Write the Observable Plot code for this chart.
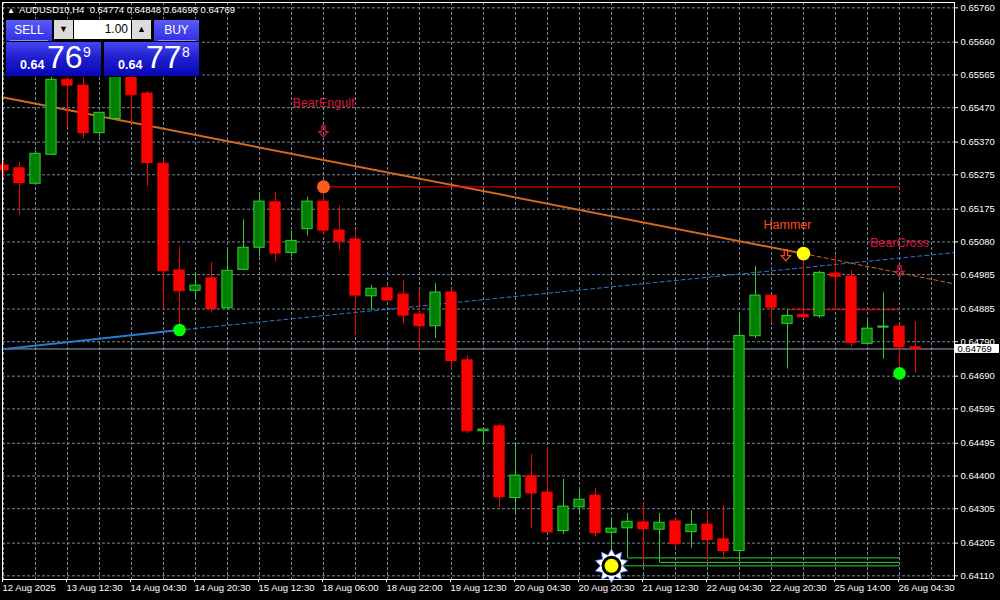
<!DOCTYPE html>
<html><head><meta charset="utf-8">
<script src="https://cdn.jsdelivr.net/npm/d3@7"></script>
<script src="https://cdn.jsdelivr.net/npm/@observablehq/plot@0.6"></script>
<style>
body{margin:0;background:#000;}
#wrap{position:relative;width:1000px;height:600px;overflow:hidden;background:#000;font-family:"Liberation Sans",Arial,sans-serif;}
#chart svg{display:block}
.abs{position:absolute;}
#hdr{left:7px;top:4px;color:#fff;font-size:9.5px;line-height:12px;white-space:pre;}
#hdr .tri{font-size:8px;margin-right:4px;}
.btn{position:absolute;background:linear-gradient(#5a5af8,#3030e4);color:#fff;font-size:12px;text-align:center;line-height:21px;height:21px;}
.arr{position:absolute;background:#dcdcdc;color:#000;font-size:9px;text-align:center;line-height:19px;width:19px;height:19px;top:20px;}
#vol{position:absolute;left:74px;top:20px;width:54px;height:19px;background:#fff;color:#000;font-size:12px;line-height:19px;text-align:right;padding-right:3px;}
.px{position:absolute;top:42px;width:95px;height:34px;background:linear-gradient(#4646f2 0%,#2020d0 45%,#0606b4 100%);}
.px span{position:absolute;color:#fff;line-height:1;}
.px .s{font-size:12.5px;font-weight:bold;top:17px;}
.px .b{font-size:32px;top:-1px;}
.px .sup{font-size:14px;top:3px;}
</style></head>
<body>
<div id="wrap">
<div id="chart"></div>
<div id="hdr" class="abs"><span class="tri">▲</span><span id="hdrtext"></span></div>
<div class="abs" style="left:5px;top:19px;width:195px;height:58px;background:#000;"></div>
<div class="btn" style="left:6px;top:20px;width:46px;">SELL</div>
<div class="abs" style="left:10px;top:40px;width:38px;height:1px;background:#8a8aff;"></div>
<div class="arr" style="left:54px;">▼</div>
<div id="vol">1.00</div>
<div class="arr" style="left:132px;">▲</div>
<div class="btn" style="left:154px;top:20px;width:45px;">BUY</div>
<div class="abs" style="left:158px;top:40px;width:38px;height:1px;background:#8a8aff;"></div>
<div class="px" id="sellpx" style="left:6px;"><span class="s" style="left:14px;"></span><span class="b" style="left:41px;"></span><span class="sup" style="left:77px;"></span></div>
<div class="px" id="buypx" style="left:104px;"><span class="s" style="left:14px;"></span><span class="b" style="left:42px;"></span><span class="sup" style="left:78px;"></span></div>
</div>
<script>
// ---------- data ----------
const symbolName = "AUDUSD10";
const timeframe = "H4";
const bid = 0.64769;
const ask = 0.64778;
const lotSize = "1.00";

const opens  = [0.65302,0.65294,0.65249,0.65333,0.65551,0.65534,0.65396,0.65437,0.65578,0.65511,
                0.65307,0.64997,0.64938,0.64974,0.64887,0.64999,0.65063,0.65195,0.65048,0.65117,
                0.65197,0.65113,0.65087,0.64922,0.64945,0.64927,0.64869,0.64835,0.64933,0.64736,
                0.64530,0.64544,0.64336,0.64399,0.64352,0.64240,0.64309,0.64343,0.64235,0.64248,
                0.64265,0.64244,0.64268,0.64237,0.64259,0.64216,0.64182,0.64806,0.64924,0.64842,
                0.64868,0.64864,0.64988,0.64979,0.64784,0.64831,0.64834,0.64774];
const highs  = [0.65314,0.65312,0.65344,0.65585,0.65570,0.65557,0.65457,0.65590,0.65595,0.65517,
                0.65321,0.65067,0.64990,0.65020,0.65059,0.65144,0.65223,0.65223,0.65111,0.65210,
                0.65238,0.65184,0.65115,0.64953,0.64956,0.64968,0.64937,0.64959,0.64941,0.64749,
                0.64535,0.64552,0.64492,0.64462,0.64484,0.64390,0.64367,0.64364,0.64276,0.64291,
                0.64321,0.64291,0.64279,0.64299,0.64297,0.64314,0.64875,0.65009,0.64924,0.64883,
                0.65046,0.64995,0.65041,0.64997,0.64852,0.64932,0.64840,0.64848];
const lows   = [0.65268,0.65157,0.65247,0.65331,0.65413,0.65381,0.65384,0.65435,0.65423,0.65241,
                0.64883,0.64828,0.64913,0.64873,0.64881,0.64997,0.65036,0.65021,0.65036,0.65097,
                0.65099,0.65055,0.64808,0.64881,0.64908,0.64842,0.64765,0.64800,0.64709,0.64523,
                0.64489,0.64309,0.64285,0.64248,0.64234,0.64230,0.64285,0.64222,0.64140,0.64162,
                0.64147,0.64149,0.64187,0.64190,0.64147,0.64158,0.64150,0.64799,0.64844,0.64711,
                0.64859,0.64858,0.64883,0.64774,0.64782,0.64739,0.64698,0.64698];
const closes = [0.65288,0.65251,0.65336,0.65551,0.65534,0.65396,0.65455,0.65578,0.65506,0.65309,
                0.64995,0.64937,0.64953,0.64885,0.64996,0.65063,0.65197,0.65046,0.65083,0.65197,
                0.65113,0.65081,0.64924,0.64944,0.64910,0.64866,0.64835,0.64933,0.64734,0.64530,
                0.64535,0.64338,0.64401,0.64349,0.64236,0.64311,0.64331,0.64234,0.64247,0.64267,
                0.64245,0.64264,0.64202,0.64258,0.64214,0.64182,0.64807,0.64924,0.64889,0.64865,
                0.64861,0.64990,0.64979,0.64786,0.64828,0.64834,0.64774,0.64769];

const timeTickBars   = [0,4,8,12,16,20,24,28,32,36,40,44,48,52,56];
const timeTickLabels = ["12 Aug 2025","13 Aug 12:30","14 Aug 04:30","14 Aug 20:30","15 Aug 12:30",
                        "18 Aug 06:00","18 Aug 22:00","19 Aug 12:30","20 Aug 04:30","20 Aug 20:30",
                        "21 Aug 12:30","22 Aug 04:30","22 Aug 20:30","25 Aug 14:00","26 Aug 04:30"];
const priceTicks = [0.65760,0.65660,0.65565,0.65470,0.65370,0.65275,0.65175,0.65080,0.64985,
                    0.64885,0.64790,0.64690,0.64595,0.64495,0.64400,0.64305,0.64205,0.64110];
const gridBars = [0,2,4,6,8,10,12,14,16,18,20,22,24,26,28,30,32,34,36,38,40,42,44,46,48,50,52,54,56,58];

// trend lines (bar index, price)
const orangeSolid  = [{bar:-0.0625, price:0.65500},{bar:50, price:0.65046}];
const orangeDashed = [{bar:50, price:0.65046},{bar:59.44, price:0.64958}];
const blueSolid    = [{bar:-0.0625, price:0.64768},{bar:11, price:0.64824}];
const blueDashed   = [{bar:11, price:0.64824},{bar:59.44, price:0.65049}];
// horizontal levels
const redLevels   = [{from:20, to:56, price:0.65240},{from:49, to:56, price:0.64883}];
const greenLevels = [{from:38, to:56, price:0.64139},{from:39, to:56, price:0.64162},{from:41, to:56, price:0.64149}];
// markers
const greenDots  = [{bar:11, price:0.64824},{bar:56, price:0.64698}];
const yellowDots = [{bar:50, price:0.65046}];
const orangeDots = [{bar:20, price:0.65240}];
const sunDots    = [{bar:38, price:0.64139}];
// pattern labels
const patternLabels = [
  {label:"BearEngulf", bar:20, price:0.65484, arrowBar:20,   arrowPrice:0.65401, color:"#dc143c"},
  {label:"Hammer",     bar:49, price:0.65128, arrowBar:48.9, arrowPrice:0.65041, color:"#ff4a12"},
  {label:"BearCross",  bar:56, price:0.65078, arrowBar:56,   arrowPrice:0.64995, color:"#dc143c"}
];

// ---------- build ----------
const candles = opens.map((o,i)=>({bar:i, open:o, high:highs[i], low:lows[i], close:closes[i], up: closes[i] >= o}));
const labelOf = new Map(timeTickBars.map((b,i)=>[b, timeTickLabels[i]]));
const UP_FILL = "#008000", UP_LINE = "#32cd32", DN = "#ff0000";
const GRID = "#778899";

const sunSymbol = {
  draw(ctx, size){
    const R = Math.sqrt(size/Math.PI), n = 10, r0 = R*0.66;
    for (let k=0;k<2*n;k++){
      const a = k*Math.PI/n - Math.PI/2, rr = (k%2) ? r0 : R;
      const px = rr*Math.cos(a), py = rr*Math.sin(a);
      if (k===0) ctx.moveTo(px,py); else ctx.lineTo(px,py);
    }
    ctx.closePath();
  }
};
// hollow down arrow (like MT4 arrow code 234)
const downArrow = {
  draw(ctx, size){
    const R = Math.sqrt(size/Math.PI);
    const sw = R*0.3, hw = R*0.85, top = -R, mid = R*0.05, tip = R;
    ctx.moveTo(-sw, top); ctx.lineTo(sw, top); ctx.lineTo(sw, mid); ctx.lineTo(hw, mid);
    ctx.lineTo(0, tip); ctx.lineTo(-hw, mid); ctx.lineTo(-sw, mid); ctx.closePath();
  }
};

const chart = Plot.plot({
  width: 1000, height: 600,
  marginTop: 2, marginBottom: 21, marginLeft: 2, marginRight: 46,
  style: {background:"#000", color:"#fff", fontFamily:"Liberation Sans, Arial, sans-serif", fontSize:"9.5px"},
  x: {type:"linear", domain:[-1/16, 951/16], axis:null},
  y: {domain:[0.640993, 0.657755], axis:null},
  color: {type:"identity"},
  marks: [
    Plot.ruleY(priceTicks, {stroke:GRID, strokeDasharray:"3,2"}),
    Plot.ruleX(gridBars, {stroke:GRID, strokeDasharray:"3,2"}),
    Plot.ruleY([bid], {stroke:"#9aa6b8"}),
    Plot.line(blueSolid, {x:"bar", y:"price", stroke:"#2a7ad2", strokeWidth:2}),
    Plot.line(blueDashed, {x:"bar", y:"price", stroke:"#2a7ad2", strokeWidth:1, strokeDasharray:"4,3"}),
    Plot.line(orangeSolid, {x:"bar", y:"price", stroke:"#d2691e", strokeWidth:2}),
    Plot.line(orangeDashed, {x:"bar", y:"price", stroke:"#d2691e", strokeWidth:1, strokeDasharray:"4,3"}),
    Plot.link(redLevels, {x1:"from", x2:"to", y1:"price", y2:"price", stroke:"#ff0000", strokeWidth:1}),
    Plot.link(greenLevels, {x1:"from", x2:"to", y1:"price", y2:"price", stroke:UP_LINE, strokeWidth:1}),
    Plot.ruleX(candles, {x:"bar", y1:"low", y2:"high", stroke: d => d.up ? UP_LINE : DN}),
    Plot.rect(candles, {x1: d => d.bar - 0.32, x2: d => d.bar + 0.32, y1:"open", y2:"close",
      fill: d => d.up ? UP_FILL : DN, stroke: d => d.up ? UP_LINE : DN, strokeWidth:1}),
    Plot.dot(greenDots, {x:"bar", y:"price", r:6.3, fill:"#00ff00"}),
    Plot.dot(yellowDots, {x:"bar", y:"price", r:6.8, fill:"#ffff00"}),
    Plot.dot(orangeDots, {x:"bar", y:"price", r:6.5, fill:"#ff5a1e"}),
    Plot.dot(sunDots, {x:"bar", y:"price", r:17, symbol:sunSymbol, fill:"#ffffff", stroke:"#3d6cff", strokeWidth:0.8}),
    Plot.dot(sunDots, {x:"bar", y:"price", r:10, fill:"#000"}),
    Plot.dot(sunDots, {x:"bar", y:"price", r:7, fill:"#ffff00"}),
    Plot.text(patternLabels, {x:"bar", y:"price", text:"label", fill:"color", fontSize:12.5, fontFamily:"Liberation Sans, Arial, sans-serif"}),
    Plot.dot(patternLabels, {x:"arrowBar", y:"arrowPrice", r:5.5, symbol:downArrow, fill:"none", stroke:"color", strokeWidth:1.2}),
    Plot.frame({stroke:"#fff"}),
    Plot.axisY(priceTicks, {anchor:"right", tickSize:3, tickPadding:3, tickFormat: d => d.toFixed(5), color:"#fff", fontSize:9.5}),
    Plot.axisX(timeTickBars, {anchor:"bottom", tickSize:3, tickPadding:2, tickFormat: d => labelOf.get(d), textAnchor:"start", dx:-1, color:"#fff", fontSize:9.5}),
    Plot.rect([bid], {x1:59.5, x2:62.25, y1: d => d - 0.00013, y2: d => d + 0.00013, fill:"#fff"}),
    Plot.text([bid], {x:59.62, y: d => d, text: d => d.toFixed(5), textAnchor:"start", fill:"#000", fontSize:9.5})
  ]
});
document.getElementById("chart").appendChild(chart);

// header + trade panel texts
const last = candles[candles.length-1];
document.getElementById("hdrtext").textContent =
  `${symbolName},${timeframe}  ${last.open.toFixed(5)} ${last.high.toFixed(5)} ${last.low.toFixed(5)} ${last.close.toFixed(5)}`;
function fillPx(id, price){
  const s = price.toFixed(5);
  const el = document.getElementById(id).children;
  el[0].textContent = s.slice(0,4);
  el[1].textContent = s.slice(4,6);
  el[2].textContent = s.slice(6);
}
fillPx("sellpx", bid);
fillPx("buypx", ask);
document.getElementById("vol").textContent = lotSize;
</script>
</body></html>
